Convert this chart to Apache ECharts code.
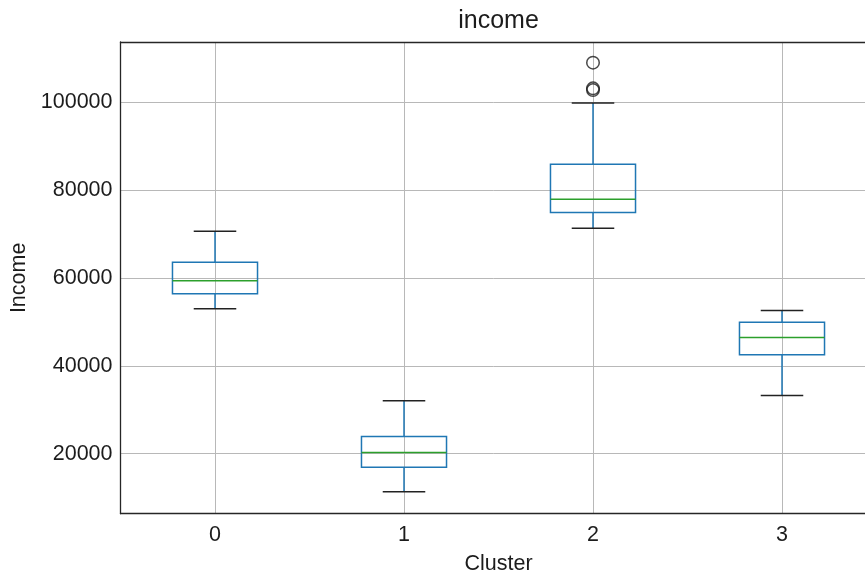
<!DOCTYPE html>
<html>
<head>
<meta charset="utf-8">
<script src="https://cdn.jsdelivr.net/npm/echarts@6/dist/echarts.min.js"></script>
<style>html,body{margin:0;padding:0;background:#fff}#c{width:865px;height:573px}</style>
</head>
<body>
<div id="c"></div>
<script>
var categories = ['0', '1', '2', '3'];
var whiskerLow = [52950, 11360, 71290, 33250];
var q1 = [56360, 16900, 74850, 42500];
var medians = [59320, 20300, 77880, 46430];
var q3 = [63570, 23940, 85830, 49930];
var whiskerHigh = [70610, 32050, 99770, 52570];
var outlierCluster = [2, 2, 2];
var outlierValues = [108940, 103100, 102700];
var yTicks = [20000, 40000, 60000, 80000, 100000];

var boxData = categories.map(function (c, i) {
  return [i, whiskerLow[i], q1[i], medians[i], q3[i], whiskerHigh[i]];
});
var outData = outlierValues.map(function (v, i) { return [outlierCluster[i], v]; });

var chart = echarts.init(document.getElementById('c'));
var textColor = '#1c1c1c';
var font = 'Liberation Sans, Arial, sans-serif';

chart.setOption({
  animation: false,
  backgroundColor: '#fff',
  grid: {
    left: 120.5, right: -11.5, top: 42, bottom: 59.3,
    show: false,
    containLabel: false, outerBoundsMode: 'none'
  },
  graphic: [{
    type: 'text', x: 498.5, y: 21, z: 10,
    style: { text: 'income', fill: textColor, font: '25px ' + font, align: 'center', verticalAlign: 'middle' }
  }],
  xAxis: [{
    type: 'value', min: -0.5, max: 3.5,
    name: 'Cluster', nameLocation: 'middle', nameGap: 39,
    nameTextStyle: { color: textColor, fontSize: 21.5, fontFamily: font },
    axisLine: { show: true, onZero: false, lineStyle: { color: '#262626', width: 1.3 } },
    axisTick: { show: false },
    axisLabel: {
      color: textColor, fontSize: 21.5, fontFamily: font, margin: 10,
      showMinLabel: false, showMaxLabel: false,
      formatter: function (v) { return Number.isInteger(v) ? categories[v] : ''; }
    },
    splitLine: { show: true, showMinLine: false, showMaxLine: false, lineStyle: { color: '#b8b8b8', width: 1 } }
  }, {
    type: 'value', min: -0.5, max: 3.5, position: 'top',
    axisLine: { show: true, onZero: false, lineStyle: { color: '#262626', width: 1.3 } },
    axisTick: { show: false }, axisLabel: { show: false }, splitLine: { show: false }
  }],
  yAxis: {
    type: 'value', min: 6364, max: 113636,
    name: 'Income', nameLocation: 'middle', nameGap: 90,
    nameTextStyle: { color: textColor, fontSize: 21.5, fontFamily: font },
    axisLine: { show: true, onZero: false, lineStyle: { color: '#262626', width: 1.3 } },
    axisTick: { show: false },
    axisLabel: {
      color: textColor, fontSize: 21.5, fontFamily: font, margin: 8, padding: [3, 0, 0, 0],
      showMinLabel: false, showMaxLabel: false,
      formatter: function (v) { return yTicks.indexOf(v) >= 0 ? String(v) : ''; }
    },
    splitLine: { show: true, showMinLine: false, showMaxLine: false, lineStyle: { color: '#b8b8b8', width: 1 } }
  },
  series: [{
    type: 'custom',
    data: boxData,
    clip: false,
    encode: { x: 0, y: [1, 2, 3, 4, 5] },
    renderItem: function (params, api) {
      var x = api.value(0);
      var halfBox = 0.225, halfCap = 0.1125;
      var pLow = api.coord([x, api.value(1)]);
      var pQ1 = api.coord([x, api.value(2)]);
      var pMed = api.coord([x, api.value(3)]);
      var pQ3 = api.coord([x, api.value(4)]);
      var pHigh = api.coord([x, api.value(5)]);
      var bl = api.coord([x - halfBox, 0])[0];
      var br = api.coord([x + halfBox, 0])[0];
      var cl = api.coord([x - halfCap, 0])[0];
      var cr = api.coord([x + halfCap, 0])[0];
      var blue = { stroke: '#1f77b4', lineWidth: 1.5, fill: null };
      var black = { stroke: '#222222', lineWidth: 1.5 };
      return {
        type: 'group',
        children: [
          { type: 'line', shape: { x1: pLow[0], y1: pLow[1], x2: pQ1[0], y2: pQ1[1] }, style: blue },
          { type: 'line', shape: { x1: pQ3[0], y1: pQ3[1], x2: pHigh[0], y2: pHigh[1] }, style: blue },
          { type: 'rect', shape: { x: bl, y: pQ3[1], width: br - bl, height: pQ1[1] - pQ3[1] }, style: { stroke: '#1f77b4', lineWidth: 1.5, fill: 'none' } },
          { type: 'line', shape: { x1: bl, y1: pMed[1], x2: br, y2: pMed[1] }, style: { stroke: '#2ca02c', lineWidth: 1.5 } },
          { type: 'line', shape: { x1: cl, y1: pLow[1], x2: cr, y2: pLow[1] }, style: black },
          { type: 'line', shape: { x1: cl, y1: pHigh[1], x2: cr, y2: pHigh[1] }, style: black }
        ]
      };
    }
  }, {
    type: 'scatter',
    data: outData,
    symbol: 'circle',
    symbolSize: 12.5,
    itemStyle: { color: 'rgba(0,0,0,0)', borderColor: '#1c1c1c', borderWidth: 1.5 }
  }]
});
</script>
</body>
</html>
